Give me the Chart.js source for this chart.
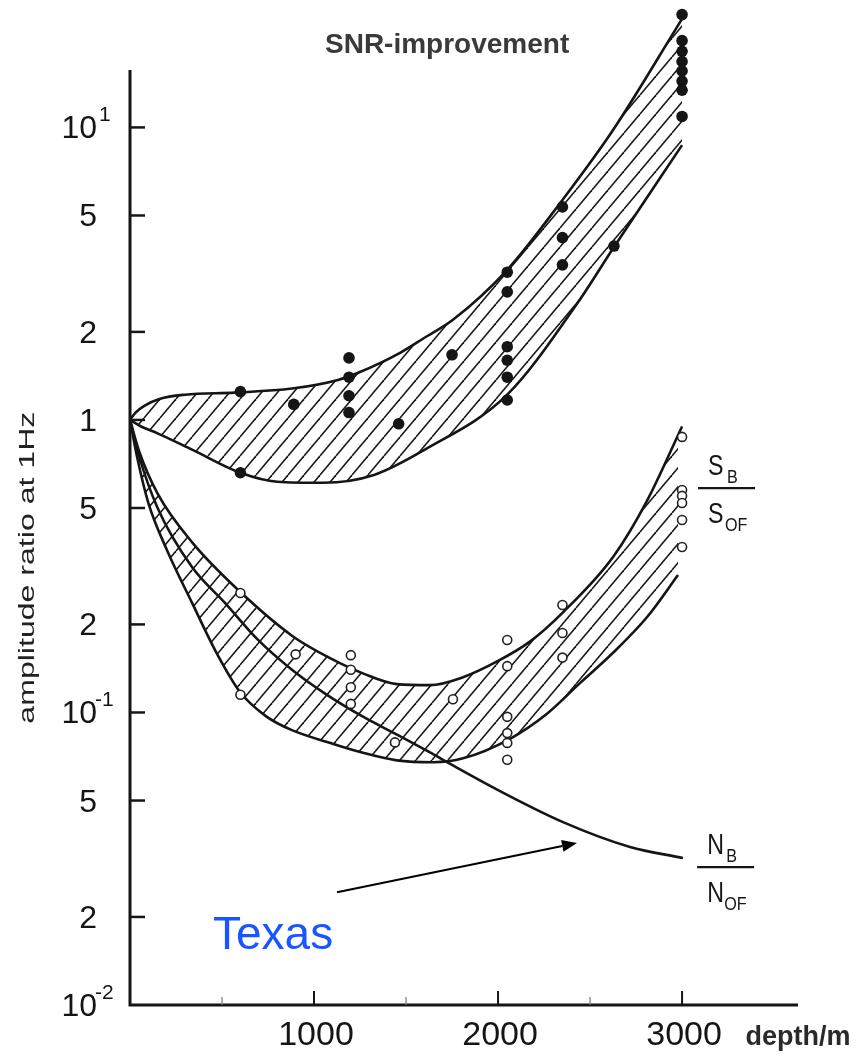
<!DOCTYPE html>
<html>
<head>
<meta charset="utf-8">
<title>SNR-improvement</title>
<script src="https://cdn.jsdelivr.net/npm/chart.js@4.4.1/dist/chart.umd.min.js"></script>
<style>
  html, body { margin: 0; padding: 0; background: #fff; }
</style>
</head>
<body>
<canvas id="snrChart" width="857" height="1058"></canvas>
<script>
// SNR improvement band (filled dots): bounding curves
const snrTopDepth = [0, 30, 80, 160, 300, 570, 880, 1130, 1240, 1470, 1600, 1755, 2050, 2350, 2625, 3000];
const snrTopRatio = [1, 1.06, 1.12, 1.18, 1.22, 1.24, 1.28, 1.37, 1.45, 1.70, 1.91, 2.2, 3.26, 5.65, 9.8, 23.5];
const snrBotDepth = [0, 60, 150, 340, 600, 800, 1050, 1330, 1600, 2050, 2430, 2630, 3000];
const snrBotRatio = [1, 0.95, 0.9, 0.79, 0.66, 0.615, 0.61, 0.65, 0.79, 1.22, 2.5, 3.9, 8.7];

// S_B / S_OF band (open circles): bounding curves
const sTopDepth = [0, 50, 150, 340, 600, 880, 1090, 1266, 1450, 1630, 1810, 2000, 2175, 2350, 2625, 2810, 3000];
const sTopRatio = [1, 0.78, 0.56, 0.38, 0.258, 0.183, 0.153, 0.136, 0.125, 0.124, 0.132, 0.15, 0.175, 0.219, 0.34, 0.53, 0.95];
const sBotDepth = [0, 40, 100, 200, 340, 470, 600, 740, 880, 1090, 1266, 1450, 1650, 1810, 2065, 2266, 2445, 2625, 2810, 2978];
const sBotRatio = [1, 0.74, 0.52, 0.36, 0.235, 0.16, 0.117, 0.097, 0.087, 0.0786, 0.0728, 0.0686, 0.0676, 0.0697, 0.0813, 0.099, 0.126, 0.160, 0.212, 0.295];

// N_B / N_OF curve
const nDepth = [0, 50, 150, 337, 516, 696, 880, 1060, 1266, 1451, 1630, 1740, 1995, 2353, 2717, 3005];
const nRatio = [1, 0.75, 0.5, 0.314, 0.237, 0.177, 0.14, 0.116, 0.0967, 0.084, 0.073, 0.0667, 0.0545, 0.0422, 0.0347, 0.0318];

// measurements
const snrDotDepth = [600, 600, 890, 1190, 1190, 1190, 1190, 1460, 1750, 2050, 2050, 2050, 2050, 2050, 2050,
                     2350, 2350, 2350, 2630, 3000, 3000, 3000, 3000, 3000, 3000, 3000, 3000];
const snrDotRatio = [1.25, 0.66, 1.13, 1.63, 1.40, 1.21, 1.06, 0.97, 1.67, 3.2, 2.74, 1.78, 1.6, 1.40, 1.17,
                     5.35, 4.2, 3.39, 3.93, 24.3, 19.8, 18.2, 16.8, 15.6, 14.4, 13.4, 10.9];
const sRingDepth = [600, 600, 900, 1200, 1200, 1200, 1200, 1440, 1755, 2050, 2050, 2050, 2050, 2050, 2050,
                    2350, 2350, 2350, 3000, 3000, 3000, 3000, 3000, 3000];
const sRingRatio = [0.256, 0.115, 0.158, 0.157, 0.14, 0.122, 0.107, 0.079, 0.111, 0.177, 0.144, 0.0966, 0.085, 0.0787, 0.0689,
                    0.233, 0.187, 0.154, 0.875, 0.576, 0.55, 0.52, 0.455, 0.368];

// axis ticks
const yTickValues = [10, 5, 2, 1, 0.5, 0.2, 0.1, 0.05, 0.02, 0.01];
const yTickBase = ['10', '5', '2', '1', '5', '2', '10', '5', '2', '10'];
const yTickExp = ['1', '', '', '', '', '', '-1', '', '', '-2'];
const xTickValues = [1000, 2000, 3000];
const xMinorTicks = [500, 1500, 2500];

const FONT = '"Liberation Sans", Arial, Helvetica, sans-serif';
const INK = '#151515';

const pts = (xs, ys) => xs.map((x, i) => ({ x: x, y: ys[i] }));

function makeHatch(w, h) {
  const c = document.createElement('canvas');
  c.width = w;
  c.height = h;
  const g = c.getContext('2d');
  g.strokeStyle = '#1a1a1a';
  g.lineWidth = 1.6;
  [-w, 0, w].forEach(off => {
    g.beginPath();
    g.moveTo(off, h);
    g.lineTo(off + w, 0);
    g.stroke();
  });
  return g.createPattern(c, 'repeat');
}

function curve(xs, ys, fill, hatch) {
  return {
    type: 'line',
    data: pts(xs, ys),
    borderColor: INK,
    borderWidth: 2.6,
    pointRadius: 0,
    tension: 0.4,
    cubicInterpolationMode: 'monotone',
    fill: fill,
    backgroundColor: hatch || 'transparent',
    order: 1
  };
}

function squeezed(ctx, str, x, yb, font, sx) {
  ctx.save();
  ctx.font = font;
  ctx.translate(x, yb);
  ctx.scale(sx, 1);
  ctx.fillText(str, 0, 0);
  ctx.restore();
}

function fraction(ctx, cx, cy, top, topSub, bot, botSub) {
  const left = cx - 28;
  ctx.lineWidth = 2.2;
  ctx.beginPath();
  ctx.moveTo(left, cy);
  ctx.lineTo(cx + 29, cy);
  ctx.stroke();
  const big = '29px ' + FONT, small = '19px ' + FONT;
  squeezed(ctx, top, left + 10, cy - 13, big, 0.8);
  squeezed(ctx, topSub, left + 29, cy - 5, small, 0.85);
  squeezed(ctx, bot, left + 10, cy + 35, big, 0.8);
  squeezed(ctx, botSub, left + 27, cy + 43, small, 0.85);
}

// axes, ticks and text are drawn by hand to get the inward ticks and 10^n labels
const paperAxes = {
  id: 'paperAxes',
  afterDraw(chart) {
    const { ctx, scales: { x, y } } = chart;
    const x0 = x.getPixelForValue(0);
    const y0 = y.getPixelForValue(0.01);
    ctx.save();
    ctx.strokeStyle = INK;
    ctx.fillStyle = INK;

    ctx.lineWidth = 3;
    ctx.beginPath();
    ctx.moveTo(x0, y.getPixelForValue(15.7));
    ctx.lineTo(x0, y0);
    ctx.lineTo(x.getPixelForValue(3630), y0);
    ctx.stroke();

    // y ticks + labels
    ctx.lineWidth = 2.5;
    ctx.textBaseline = 'alphabetic';
    yTickValues.forEach((v, i) => {
      const py = y.getPixelForValue(v);
      if (v > 0.01) {
        ctx.beginPath();
        ctx.moveTo(x0, py);
        ctx.lineTo(x0 + 15, py);
        ctx.stroke();
      }
      ctx.font = '32px ' + FONT;
      ctx.textAlign = 'right';
      ctx.fillText(yTickBase[i], x0 - 33, py + 11);
      if (yTickExp[i]) {
        ctx.font = '21px ' + FONT;
        ctx.textAlign = 'left';
        ctx.fillText(yTickExp[i], yTickExp[i].length > 1 ? x0 - 35 : x0 - 31, py - 6);
      }
    });

    // x ticks + labels
    xTickValues.forEach(v => {
      const px = x.getPixelForValue(v);
      ctx.lineWidth = 2;
      ctx.beginPath();
      ctx.moveTo(px, y0);
      ctx.lineTo(px, y0 - 14);
      ctx.stroke();
      ctx.font = '34px ' + FONT;
      ctx.textAlign = 'center';
      ctx.fillText(String(v), px + 2, y0 + 40);
    });
    ctx.strokeStyle = '#777';
    xMinorTicks.forEach(v => {
      const px = x.getPixelForValue(v);
      ctx.lineWidth = 1.2;
      ctx.beginPath();
      ctx.moveTo(px, y0);
      ctx.lineTo(px, y0 - 8);
      ctx.stroke();
    });
    ctx.strokeStyle = INK;
    ctx.font = 'bold 27px ' + FONT;
    ctx.textAlign = 'left';
    ctx.fillStyle = '#2a2a2a';
    ctx.fillText('depth/m', x.getPixelForValue(3345), y0 + 40);

    // y axis title, long and narrow
    ctx.save();
    ctx.translate(x0 - 102, y.getPixelForValue(0.096) - 150);
    ctx.rotate(-Math.PI / 2);
    ctx.font = '22px ' + FONT;
    const label = 'amplitude ratio at 1Hz';
    const w = ctx.measureText(label).width;
    ctx.scale(312 / w, 1);
    ctx.textAlign = 'center';
    ctx.textBaseline = 'middle';
    ctx.fillStyle = '#222';
    ctx.fillText(label, 0, 0);
    ctx.restore();

    // title
    ctx.font = 'bold 28px ' + FONT;
    ctx.fillStyle = '#3a3a3a';
    ctx.textAlign = 'left';
    ctx.fillText('SNR-improvement', 325, 53);

    // curve labels
    ctx.fillStyle = INK;
    fraction(ctx, x.getPixelForValue(3239), y.getPixelForValue(0.585), 'S', 'B', 'S', 'OF');
    fraction(ctx, x.getPixelForValue(3234), y.getPixelForValue(0.0296), 'N', 'B', 'N', 'OF');

    // arrow to the N curve
    const ax = x.getPixelForValue(1125), ay = y.getPixelForValue(0.0243);
    const bx = x.getPixelForValue(2429), by = y.getPixelForValue(0.0358);
    const ang = Math.atan2(by - ay, bx - ax);
    const head = 15;
    ctx.lineWidth = 2;
    ctx.strokeStyle = '#000';
    ctx.beginPath();
    ctx.moveTo(ax, ay);
    ctx.lineTo(bx - head * Math.cos(ang), by - head * Math.sin(ang));
    ctx.stroke();
    ctx.fillStyle = '#000';
    ctx.beginPath();
    ctx.moveTo(bx, by);
    ctx.lineTo(bx - head * Math.cos(ang) + 6 * Math.sin(ang), by - head * Math.sin(ang) - 6 * Math.cos(ang));
    ctx.lineTo(bx - head * Math.cos(ang) - 6 * Math.sin(ang), by - head * Math.sin(ang) + 6 * Math.cos(ang));
    ctx.closePath();
    ctx.fill();

    ctx.font = '46px ' + FONT;
    ctx.fillStyle = '#1a56ff';
    ctx.fillText('Texas', x.getPixelForValue(451), y.getPixelForValue(0.0155));
    ctx.restore();
  }
};

const hatch = makeHatch(16, 19);

new Chart(document.getElementById('snrChart'), {
  type: 'scatter',
  data: {
    datasets: [
      curve(snrTopDepth, snrTopRatio, false),
      curve(snrBotDepth, snrBotRatio, '-1', hatch),
      curve(sTopDepth, sTopRatio, false),
      curve(sBotDepth, sBotRatio, '-1', hatch),
      curve(nDepth, nRatio, false),
      {
        data: pts(snrDotDepth, snrDotRatio),
        pointRadius: 5.8,
        pointBackgroundColor: INK,
        pointBorderWidth: 0,
        order: 0
      },
      {
        data: pts(sRingDepth, sRingRatio),
        pointRadius: 4.5,
        pointBackgroundColor: '#fff',
        pointBorderColor: '#222',
        pointBorderWidth: 1.6,
        order: 0
      }
    ]
  },
  options: {
    responsive: false,
    animation: false,
    devicePixelRatio: 1,
    layout: { padding: { left: 130, right: 59, top: 8, bottom: 53 } },
    plugins: { legend: { display: false }, tooltip: { enabled: false } },
    scales: {
      x: { type: 'linear', min: 0, max: 3630, display: false },
      y: { type: 'logarithmic', min: 0.01, max: 25.6, display: false }
    }
  },
  plugins: [paperAxes]
});
</script>
</body>
</html>
